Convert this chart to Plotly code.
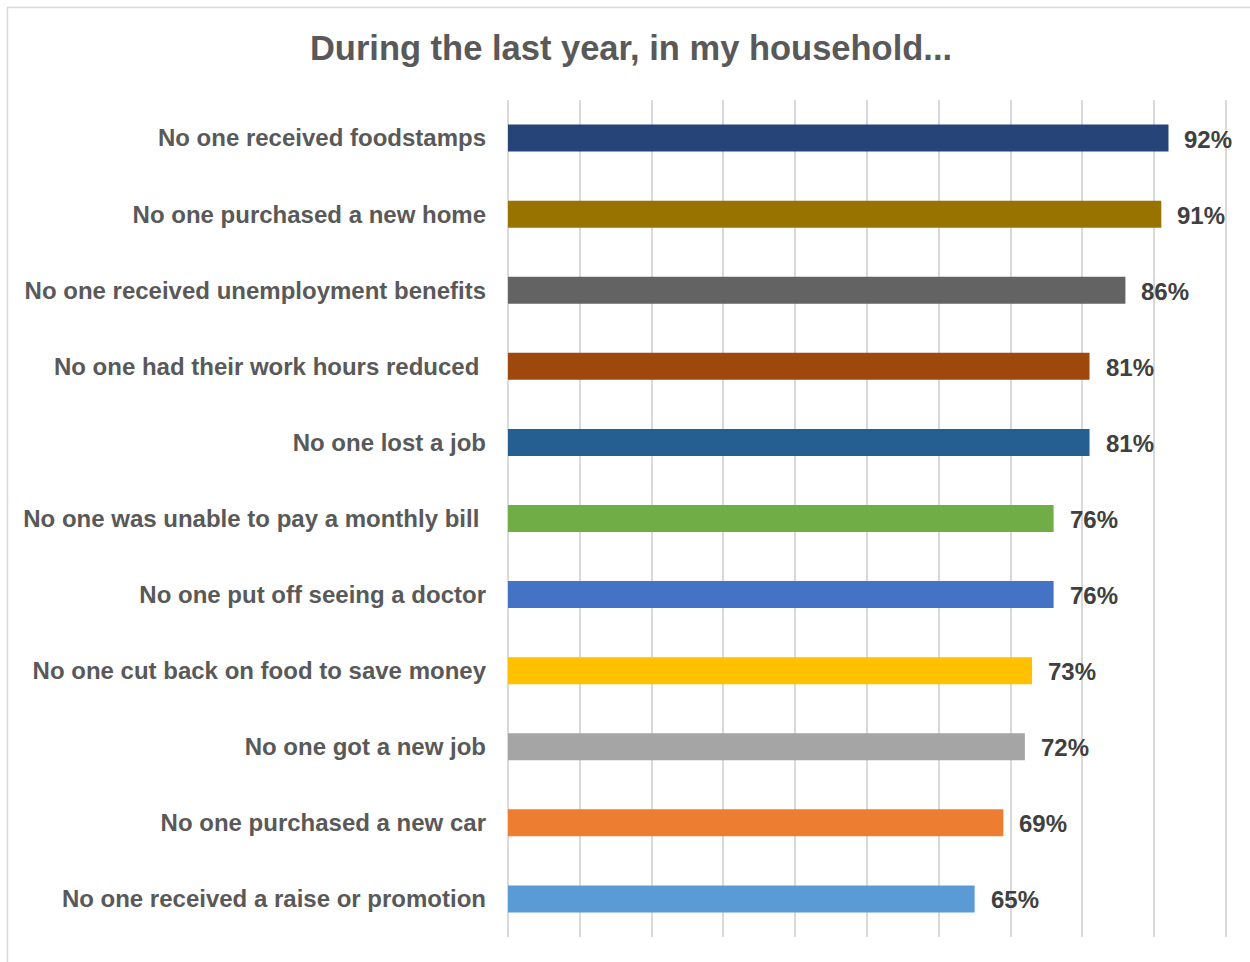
import plotly.graph_objects as go

# Survey categories (top to bottom) and share of households
categories = [
    "No one received foodstamps",
    "No one purchased a new home",
    "No one received unemployment benefits",
    "No one had their work hours reduced\u00a0",
    "No one lost a job",
    "No one was unable to pay a monthly bill\u00a0",
    "No one put off seeing a doctor",
    "No one cut back on food to save money",
    "No one got a new job",
    "No one purchased a new car",
    "No one received a raise or promotion",
]
values = [92, 91, 86, 81, 81, 76, 76, 73, 72, 69, 65]
colors = [
    "#264478", "#997300", "#636363", "#9E480E", "#255E91", "#70AD47",
    "#4472C4", "#FFC000", "#A5A5A5", "#ED7D31", "#5B9BD5",
]

W, H = 1250, 962
L, R, T, B = 508, 23, 100, 25
FONT = "Liberation Sans, Arial"
GRID = "#D9D9D9"

fig = go.Figure(
    go.Bar(
        x=values,
        y=categories,
        orientation="h",
        marker=dict(color=colors, line=dict(width=0)),
        width=0.355,
        hoverinfo="x+y",
    )
)

# value labels to the right of each bar
for cat, v in zip(categories, values):
    fig.add_annotation(
        x=v, y=cat, text=f"<b>{v}%</b>", showarrow=False,
        xanchor="left", yanchor="middle", xshift=14, yshift=-1,
        font=dict(family=FONT, size=24, color="#404040"),
    )

# outer chart border
pw, ph = W - L - R, H - T - B
fig.add_shape(
    type="rect", xref="paper", yref="paper",
    x0=(7.5 - L) / pw, x1=(W + 3 - L) / pw,
    y0=-(B + 3) / ph, y1=1 + (T - 7.5) / ph,
    line=dict(color=GRID, width=1.5), fillcolor="rgba(0,0,0,0)",
    layer="below",
)

fig.update_layout(
    width=W, height=H,
    margin=dict(l=L, r=R, t=T, b=B, autoexpand=False),
    paper_bgcolor="white", plot_bgcolor="white",
    title=dict(
        text="<b>During the last year, in my household...</b>",
        x=631 / W, xanchor="center", y=1 - 48 / H, yanchor="middle",
        font=dict(family=FONT, size=34.5, color="#595959"),
    ),
    showlegend=False,
    xaxis=dict(
        range=[0, 100.15], dtick=10, tick0=0,
        showgrid=True, gridcolor=GRID, gridwidth=1.5,
        showticklabels=False, showline=False,
        zeroline=True, zerolinecolor=GRID, zerolinewidth=1.5,
        fixedrange=True,
    ),
    yaxis=dict(
        autorange="reversed",
        showgrid=False, zeroline=False, showline=False,
        ticks="", ticklabelstandoff=21,
        tickfont=dict(family=FONT, size=24, color="#595959"),
        categoryorder="array", categoryarray=categories,
        tickprefix="<b>", ticksuffix="</b>",
    ),
)

fig.write_html("out.html")
